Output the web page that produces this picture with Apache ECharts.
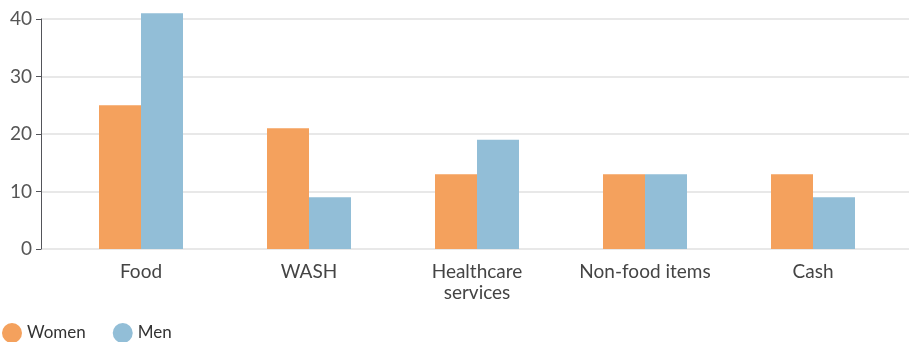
<!DOCTYPE html>
<html>
<head>
<meta charset="utf-8">
<script src="https://cdn.jsdelivr.net/npm/echarts@6/dist/echarts.min.js"></script>
<style>
  html, body { margin: 0; padding: 0; background: #fff; }
</style>
</head>
<body>
<div id="chart" style="width:909px;height:342px;"></div>
<script>
    const categories = ['Food', 'WASH', 'Healthcare\nservices', 'Non-food items', 'Cash'];
    const women = [25, 21, 13, 13, 13];
    const men = [41, 9, 19, 13, 9];
    const yTicks = { min: 0, max: 40, interval: 10 };

    const chart = echarts.init(document.getElementById('chart'));
    const labelFont = 'Lato, "Noto Sans", sans-serif';

    chart.setOption({
        animation: false,
        grid: [
            // bars
            { left: 57, right: 12, top: 19, bottom: 93 },
            // background grid lines run wider than the bars
            { left: 41, right: 0, top: 19, bottom: 93 }
        ],
        legend: {
            left: 2,
            top: 323,
            padding: 0,
            icon: 'circle',
            itemWidth: 20,
            itemHeight: 20,
            itemGap: 27,
            textStyle: { fontSize: 17, color: '#333', fontFamily: labelFont }
        },
        xAxis: [
            {
                type: 'category',
                gridIndex: 0,
                data: categories,
                axisLine: { show: false },
                axisTick: { show: false },
                axisLabel: {
                    interval: 0,
                    color: '#444',
                    fontSize: 19,
                    fontFamily: labelFont,
                    margin: 12,
                    lineHeight: 21
                }
            },
            { type: 'value', gridIndex: 1, show: false }
        ],
        yAxis: [
            {
                type: 'value',
                gridIndex: 0,
                min: yTicks.min,
                max: yTicks.max,
                interval: yTicks.interval,
                axisLabel: { show: false },
                splitLine: { show: false }
            },
            {
                type: 'value',
                gridIndex: 1,
                min: yTicks.min,
                max: yTicks.max,
                interval: yTicks.interval,
                axisLabel: { color: '#555', fontSize: 19, fontFamily: labelFont, margin: 9 },
                splitLine: { lineStyle: { color: '#e8e8e8', width: 2 } }
            }
        ],
        series: [
            {
                name: 'Women',
                type: 'bar',
                data: women,
                clip: false,
                barGap: '0%',
                barCategoryGap: '50%',
                itemStyle: { color: '#F4A15D' },
                z: 3
            },
            {
                name: 'Men',
                type: 'bar',
                data: men,
                clip: false,
                itemStyle: { color: '#92BED7' },
                z: 3
            }
        ]
    });
</script>
</body>
</html>
